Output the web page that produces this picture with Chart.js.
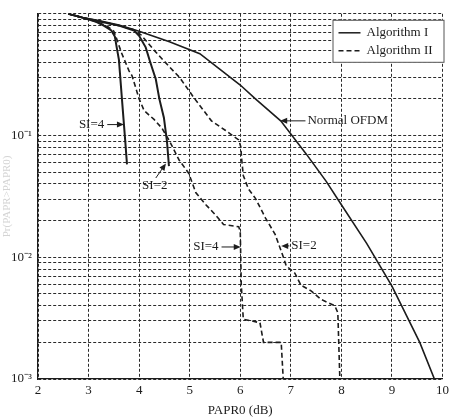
<!DOCTYPE html>
<html>
<head>
<meta charset="utf-8">
<script src="https://cdn.jsdelivr.net/npm/chart.js@4/dist/chart.umd.min.js"></script>
<style>
html, body { margin: 0; padding: 0; background: #fff; }
#wrap { width: 453px; height: 420px; }
</style>
</head>
<body>
<div id="wrap"><canvas id="papr"></canvas></div>
<script>
var xTitle = 'PAPR0 (dB)';
var yTitle = 'Pr(PAPR>PAPR0)';
var legendLabels = ['Algorithm I', 'Algorithm II'];
var yMajor = [0.001, 0.01, 0.1];
var yMajorLabels = ['10\u207B\u00B3', '10\u207B\u00B2', '10\u207B\u00B9'];
var yGrid = [0.001, 0.002, 0.003, 0.004, 0.005, 0.006, 0.007, 0.008, 0.009,
             0.01, 0.02, 0.03, 0.04, 0.05, 0.06, 0.07, 0.08, 0.09,
             0.1, 0.2, 0.3, 0.4, 0.5, 0.6, 0.7, 0.8, 0.9, 1];

// normal OFDM (no reduction)
var normalX = [2.6, 2.88, 3.2, 3.6, 4.0, 4.6, 5.2, 5.6, 6.0, 6.3, 6.8, 7.3, 7.7, 8.0, 8.5, 9.0, 9.55, 9.84];
var normalP = [1.0, 0.93, 0.88, 0.81, 0.72, 0.59, 0.47, 0.35, 0.26, 0.2, 0.132, 0.071, 0.042, 0.027, 0.013, 0.0058, 0.002, 0.001];

// algorithm I (solid)
var alg1Si4X = [2.6, 2.88, 3.15, 3.3, 3.45, 3.52, 3.56, 3.6, 3.66, 3.7, 3.73, 3.76];
var alg1Si4P = [1.0, 0.93, 0.86, 0.8, 0.73, 0.65, 0.52, 0.42, 0.2, 0.123, 0.085, 0.058];
var alg1Si2X = [2.6, 2.88, 3.2, 3.6, 3.9, 4.0, 4.13, 4.22, 4.33, 4.4, 4.49, 4.55, 4.59];
var alg1Si2P = [1.0, 0.93, 0.87, 0.8, 0.73, 0.66, 0.53, 0.4, 0.29, 0.2, 0.14, 0.09, 0.056];

// algorithm II (dashed)
var alg2Si4X = [2.6, 2.88, 3.15, 3.35, 3.5, 3.57, 3.65, 3.8, 3.86, 4.0, 4.1, 4.3, 4.45, 4.59, 4.79, 4.98, 5.12, 5.32, 5.51, 5.67, 5.97, 6.0, 6.02, 6.06, 6.39, 6.46, 6.81, 6.85, 8.0];
var alg2Si4P = [1.0, 0.93, 0.86, 0.8, 0.72, 0.6, 0.48, 0.34, 0.31, 0.2, 0.16, 0.135, 0.115, 0.092, 0.063, 0.049, 0.034, 0.027, 0.0223, 0.0186, 0.0178, 0.0163, 0.006, 0.0031, 0.0029, 0.002, 0.002, 0.001, 0.001];
var alg2Si2X = [2.6, 2.88, 3.2, 3.6, 3.9, 4.04, 4.3, 4.59, 4.8, 5.1, 5.43, 5.71, 5.97, 6.01, 6.03, 6.06, 6.16, 6.3, 6.5, 6.69, 6.85, 6.91, 7.08, 7.2, 7.4, 7.6, 7.87, 7.93, 7.97];
var alg2Si2P = [1.0, 0.93, 0.87, 0.8, 0.74, 0.67, 0.5, 0.37, 0.3, 0.2, 0.132, 0.11, 0.092, 0.081, 0.063, 0.047, 0.0365, 0.0305, 0.021, 0.0154, 0.0101, 0.0085, 0.0074, 0.0059, 0.0053, 0.0045, 0.004, 0.0035, 0.001];

// callouts: text, arrow tip and arrow tail in data units
var notes = [
  { text: 'SI=4', tip: [3.70, 0.123], tail: [3.37, 0.123], side: 'left' },
  { text: 'SI=2', tip: [4.53, 0.059], tail: [4.33, 0.0448], side: 'below' },
  { text: 'Normal OFDM', tip: [6.79, 0.132], tail: [7.29, 0.132], side: 'right' },
  { text: 'SI=4', tip: [6.01, 0.01215], tail: [5.63, 0.01215], side: 'left' },
  { text: 'SI=2', tip: [6.81, 0.0124], tail: [6.97, 0.0124], side: 'right' }
];

var ink = '#1c1c1c';
var serif = '"Liberation Serif", "Times New Roman", serif';

function toPoints(xs, ps) {
  return xs.map(function(x, i) { return { x: x, y: ps[i] }; });
}

function lineSet(label, xs, ps, dashed, width) {
  return {
    label: label,
    data: toPoints(xs, ps),
    borderColor: ink,
    borderWidth: width,
    borderDash: dashed ? [5, 3] : [],
    pointRadius: 0,
    fill: false,
    tension: 0
  };
}

var calloutPlugin = {
  id: 'callouts',
  afterDraw: function(chart) {
    var ctx = chart.ctx;
    var xs = chart.scales.x, ys = chart.scales.y;
    ctx.save();
    ctx.font = '13px ' + serif;
    ctx.fillStyle = ink;
    ctx.strokeStyle = ink;
    ctx.lineWidth = 1;
    notes.forEach(function(n) {
      var tx = xs.getPixelForValue(n.tip[0]), ty = ys.getPixelForValue(n.tip[1]);
      var sx = xs.getPixelForValue(n.tail[0]), sy = ys.getPixelForValue(n.tail[1]);
      var ang = Math.atan2(ty - sy, tx - sx);
      ctx.beginPath();
      ctx.moveTo(sx, sy);
      ctx.lineTo(tx - Math.cos(ang) * 5, ty - Math.sin(ang) * 5);
      ctx.stroke();
      ctx.beginPath();
      ctx.moveTo(tx, ty);
      ctx.lineTo(tx - Math.cos(ang) * 7 + Math.sin(ang) * 3, ty - Math.sin(ang) * 7 - Math.cos(ang) * 3);
      ctx.lineTo(tx - Math.cos(ang) * 7 - Math.sin(ang) * 3, ty - Math.sin(ang) * 7 + Math.cos(ang) * 3);
      ctx.closePath();
      ctx.fill();
      if (n.side === 'left') {
        ctx.textAlign = 'right'; ctx.textBaseline = 'middle';
        ctx.fillText(n.text, sx - 3, sy);
      } else if (n.side === 'right') {
        ctx.textAlign = 'left'; ctx.textBaseline = 'middle';
        ctx.fillText(n.text, sx + 2, sy);
      } else {
        ctx.textAlign = 'center'; ctx.textBaseline = 'top';
        ctx.fillText(n.text, sx - 1, sy + 1);
      }
    });

    // legend box in the top right corner
    var right = chart.chartArea.right + 2, top = chart.chartArea.top + 6;
    var w = 112, h = 43;
    var left = right - w;
    ctx.fillStyle = '#fff';
    ctx.fillRect(left, top, w, h);
    ctx.strokeStyle = '#555';
    ctx.lineWidth = 1;
    ctx.strokeRect(left + 0.5, top + 0.5, w - 1, h - 1);
    ctx.fillStyle = ink;
    ctx.strokeStyle = ink;
    ctx.textAlign = 'left';
    ctx.textBaseline = 'middle';
    legendLabels.forEach(function(lbl, i) {
      var y = top + 13 + i * 18;
      ctx.lineWidth = 1.5;
      ctx.setLineDash(i === 0 ? [] : [5, 3]);
      ctx.beginPath();
      ctx.moveTo(left + 6, y);
      ctx.lineTo(left + 28, y);
      ctx.stroke();
      ctx.setLineDash([]);
      ctx.fillText(lbl, left + 34, y);
    });
    ctx.restore();
  }
};

new Chart(document.getElementById('papr'), {
  type: 'line',
  data: {
    datasets: [
      lineSet('Normal OFDM', normalX, normalP, false, 1.6),
      lineSet('Algorithm I, SI=4', alg1Si4X, alg1Si4P, false, 2),
      lineSet('Algorithm I, SI=2', alg1Si2X, alg1Si2P, false, 2),
      lineSet('Algorithm II, SI=4', alg2Si4X, alg2Si4P, true, 1.6),
      lineSet('Algorithm II, SI=2', alg2Si2X, alg2Si2P, true, 1.6)
    ]
  },
  options: {
    responsive: true,
    maintainAspectRatio: false,
    animation: false,
    layout: { padding: { left: 0, right: 8, top: 3, bottom: 0 } },
    plugins: {
      legend: { display: false },
      tooltip: { enabled: false }
    },
    scales: {
      x: {
        type: 'linear',
        min: 2,
        max: 10,
        ticks: { stepSize: 1, color: ink, padding: 4, font: { family: serif, size: 13 } },
        grid: { color: '#2a2a2a', lineWidth: 1, drawTicks: false },
        border: { display: true, color: ink, width: 1.2, dash: [3, 2] },
        title: { display: true, text: xTitle, color: ink, font: { family: serif, size: 13 }, padding: { top: 0, bottom: 2 } },
        afterFit: function(scale) { scale.height = 41; }
      },
      y: {
        type: 'logarithmic',
        min: 0.001,
        max: 1,
        afterBuildTicks: function(scale) {
          scale.ticks = yGrid.map(function(v) { return { value: v }; });
        },
        ticks: {
          autoSkip: false,
          color: ink,
          padding: 6,
          font: { family: serif, size: 13 },
          callback: function(value) {
            for (var i = 0; i < yMajor.length; i++) {
              if (Math.abs(Math.log10(value) - Math.log10(yMajor[i])) < 1e-6) return yMajorLabels[i];
            }
            return '';
          }
        },
        grid: { color: '#2a2a2a', lineWidth: 1, drawTicks: false },
        border: { display: true, color: ink, width: 1.2, dash: [3, 2] },
        title: { display: true, text: yTitle, color: '#d4d4d4', font: { family: serif, size: 11 }, padding: { top: 1, bottom: 0 } },
        afterFit: function(scale) { scale.width = 38; }
      }
    }
  },
  plugins: [calloutPlugin]
});
</script>
</body>
</html>
